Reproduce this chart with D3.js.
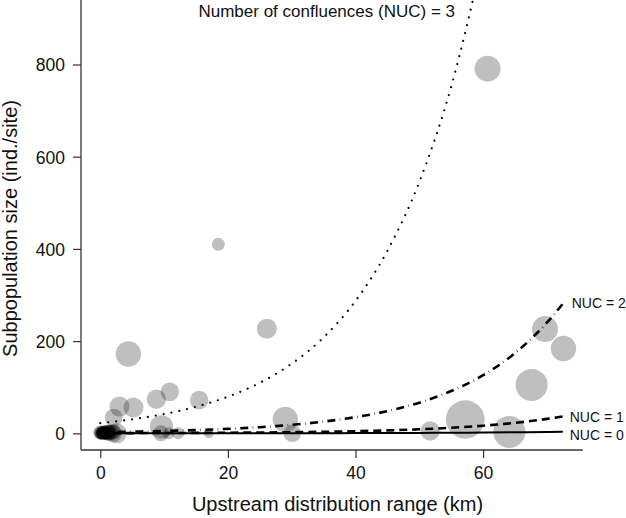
<!DOCTYPE html>
<html><head><meta charset="utf-8">
<script src="https://cdn.jsdelivr.net/npm/d3@7"></script>
<style>body{margin:0;background:#fff}svg{display:block}text{font-family:"Liberation Sans",Arial,sans-serif;fill:#111}</style>
</head><body><svg id="c" width="626" height="518"></svg>
<script>
// Bubble data: upstream distribution range (km), subpopulation size, bubble weight (area)
const siteX = [60.7, 18.5, 26.1, 4.4, 10.9, 8.8, 15.5, 5.2, 3.0, 2.1, 9.6, 29.0, 30.1, 17.0, 12.2, 10.7, 9.5, 51.7, 57.2, 64.1, 67.6, 69.7, 72.6,
  0.0, 0.1, 0.2, 0.3, 0.4, 0.5, 0.6, 0.7, 0.8, 0.9, 1.0, 1.1, 1.3, 1.5, 1.7, 2.0, 2.2, 2.6,
  0.0, 0.2, 0.4, 0.5, 0.7, 0.9, 1.0, 1.2, 1.4, 0.3, 0.6, 1.8, 0.1, 0.8];
const siteY = [791, 410, 227, 172, 90, 74, 72, 56, 58, 34, 14, 30, 0, 0, 0, 0, 0, 5, 30, 3, 105, 226, 184,
  0, 1, 0, 2, 0, 1, 0, 3, 0, 5, 1, 0, 2, 0, 1, 0, 3, 0,
  2, 0, 1, 0, 2, 1, 0, 1, 3, 0, 1, 2, 0, 0];
const siteW = [169, 42, 100, 161, 86, 94, 86, 100, 100, 81, 137, 161, 76, 25, 36, 36, 64, 94, 372, 256, 256, 169, 161,
  36, 49, 25, 36, 49, 25, 36, 49, 36, 25, 49, 25, 64, 36, 49, 81, 49, 100,
  49, 36, 49, 36, 49, 36, 49, 64, 49, 36, 36, 64, 25, 36];

// Fitted curves
const curveX = [0, 5, 10, 15, 20, 25, 30, 35, 40, 45, 50, 55, 60, 65, 70, 72.5];
const nuc3 = [22, 30.3, 41.8, 57.6, 79.4, 109.5, 151, 208, 287, 396, 545, 752, 1036, null, null, null];
const nuc2 = [2.7, 3.7, 5.1, 7.0, 9.7, 13.3, 18.4, 25.4, 35, 48.2, 66.5, 91.7, 126, 174, 240, 281];
const nuc1 = [0.35, 0.48, 0.67, 0.92, 1.26, 1.74, 2.4, 3.3, 4.6, 6.3, 8.7, 12.0, 16.5, 22.7, 31.3, 36.7];
const nuc0 = [0.03, 0.04, 0.06, 0.08, 0.12, 0.17, 0.23, 0.32, 0.44, 0.61, 0.84, 1.16, 1.6, 2.2, 3.0, 3.6];

const xTicks = [0, 20, 40, 60];
const yTicks = [0, 200, 400, 600, 800];

const svg = d3.select("#c");
const L = 81, R = 582.7, T = 0, B = 450;
const x = d3.scaleLinear().domain([-3.025, 75.61]).range([L, R]);
const y = d3.scaleLinear().domain([-36.2, 939.9]).range([B, T]);
const rs = d3.scaleSqrt().domain([0, 400]).range([0, 20]);

svg.append("defs").append("clipPath").attr("id", "clip")
  .append("rect").attr("x", L).attr("y", T).attr("width", R - L).attr("height", B - T);

const plot = svg.append("g").attr("clip-path", "url(#clip)");

// bubbles
const sites = siteX.map((v, i) => ({x: v, y: siteY[i], w: siteW[i]}));
plot.selectAll("circle").data(sites).join("circle")
  .attr("cx", d => x(d.x)).attr("cy", d => y(d.y)).attr("r", d => rs(d.w))
  .attr("fill", "#000").attr("fill-opacity", 0.25);

// curves
const line = d3.line().defined(d => d[1] != null).x(d => x(d[0])).y(d => y(d[1])).curve(d3.curveMonotoneX);
const curves = [
  {v: nuc3, dash: "0,8", w: 2.2, cap: "round"},
  {v: nuc2, dash: "8,4.5,0.5,4.5", w: 2.6, cap: "butt"},
  {v: nuc1, dash: "8,5", w: 2.6, cap: "butt"},
  {v: nuc0, dash: null, w: 2, cap: "butt"}
];
curves.forEach(c => {
  plot.append("path").datum(curveX.map((cx, i) => [cx, c.v[i]]))
    .attr("d", line).attr("fill", "none").attr("stroke", "#000")
    .attr("stroke-width", c.w).attr("stroke-linecap", c.cap)
    .attr("stroke-dasharray", c.dash);
});

// axes
const ax = svg.append("g").attr("transform", `translate(0,${B})`)
  .call(d3.axisBottom(x).tickValues(xTicks).tickSize(8).tickPadding(9).tickSizeOuter(0));
const ay = svg.append("g").attr("transform", `translate(${L},0)`)
  .call(d3.axisLeft(y).tickValues(yTicks).tickSize(8).tickPadding(8).tickSizeOuter(0));
[ax, ay].forEach(g => {
  g.select(".domain").remove();
  g.selectAll("line").attr("stroke", "#333").attr("stroke-width", 1.2);
  g.selectAll("text").attr("font-size", 17.5).attr("font-family", "Liberation Sans, Arial, sans-serif").attr("fill", "#111");
});
ay.selectAll("text").attr("dy", "0.36em");
svg.append("line").attr("x1", L).attr("x2", L).attr("y1", T).attr("y2", B).attr("stroke", "#333").attr("stroke-width", 1.3);
svg.append("line").attr("x1", L).attr("x2", R).attr("y1", B).attr("y2", B).attr("stroke", "#333").attr("stroke-width", 1.3);

// titles
svg.append("text").attr("x", 337.5).attr("y", 511).attr("text-anchor", "middle").attr("font-size", 20)
  .text("Upstream distribution range (km)");
svg.append("text").attr("transform", "translate(17,228.5) rotate(-90)").attr("text-anchor", "middle").attr("font-size", 20)
  .text("Subpopulation size (ind./site)");

// curve labels
svg.append("text").attr("x", 455).attr("y", 17.3).attr("text-anchor", "end").attr("font-size", 17)
  .text("Number of confluences (NUC) = 3");
const lab = [["NUC = 2", 571.7, 308.3], ["NUC = 1", 569.7, 421.7], ["NUC = 0", 569.7, 440]];
lab.forEach(l => svg.append("text").attr("x", l[1]).attr("y", l[2]).attr("font-size", 14).text(l[0]));
</script></body></html>
